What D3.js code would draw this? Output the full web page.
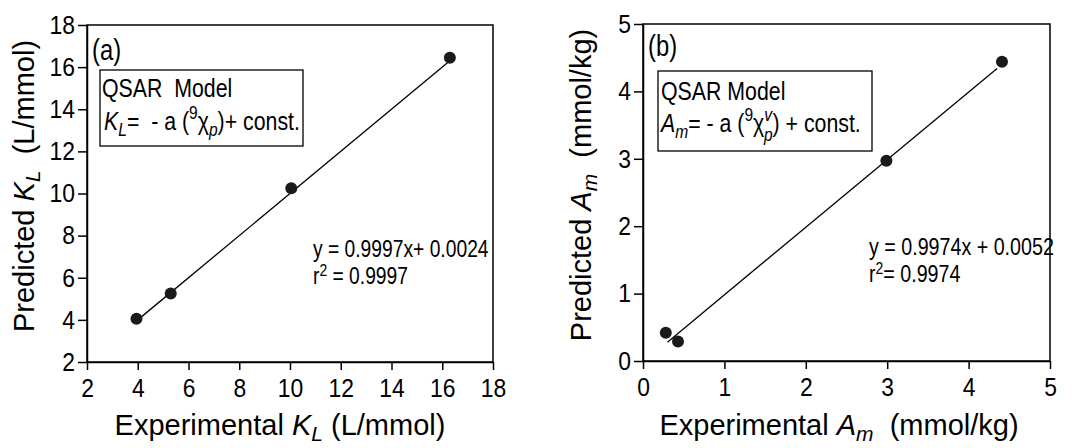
<!DOCTYPE html>
<html>
<head>
<meta charset="utf-8">
<script src="https://cdn.jsdelivr.net/npm/d3@7"></script>
<style>
  body { margin: 0; background: #fff; }
  svg { display: block; }
  .tick line, .domain { stroke: #000; stroke-width: 1.5; }
  .frame { fill: none; stroke: #000; stroke-width: 1.5; }
  .fit { stroke: #000; stroke-width: 1.3; }
  .dot { fill: #1a1a1a; }
  .narrow { font-family: "Liberation Sans", Arial, sans-serif; white-space: pre; }
  .title { font-family: "Liberation Sans", Arial, sans-serif; font-size: 29px; white-space: pre; }
  .box { fill: none; stroke: #000; stroke-width: 1.3; }
</style>
</head>
<body>
<svg id="chart" width="1075" height="448"></svg>
<script>
// panel (a): K_L in L/mmol
var kl_exp = [3.95, 5.3, 10.05, 16.3];
var kl_pred = [4.05, 5.25, 10.25, 16.45];
var kl_fit = [[4.0, 4.0], [16.3, 16.3]];
var kl_ticks = [2, 4, 6, 8, 10, 12, 14, 16, 18];

// panel (b): A_m in mmol/kg
var am_exp = [0.28, 0.43, 2.99, 4.41];
var am_pred = [0.42, 0.29, 2.97, 4.44];
var am_fit = [[0.3, 0.28], [4.35, 4.34]];
var am_ticks = [0, 1, 2, 3, 4, 5];

var SX = 0.82; // squeeze for the narrow face used in the original
var TSX = 0.88; // tick labels

var svg = d3.select("#chart");

// place a horizontally condensed text at x,y
function ntext(x, y, size) {
  return svg.append("text")
    .attr("class", "narrow")
    .style("font-size", size + "px")
    .attr("transform", "translate(" + x + "," + y + ") scale(" + SX + ",1)");
}

function panel(opt) {
  var x = d3.scaleLinear().domain(opt.xdom).range(opt.xr);
  var y = d3.scaleLinear().domain(opt.ydom).range(opt.yr);
  var g = svg.append("g");

  g.append("rect")
    .attr("class", "frame")
    .attr("x", opt.xr[0])
    .attr("y", opt.yr[1])
    .attr("width", opt.xr[1] - opt.xr[0])
    .attr("height", opt.yr[0] - opt.yr[1]);

  var xa = g.append("g")
    .attr("transform", "translate(0," + opt.yr[0] + ")")
    .call(d3.axisBottom(x).tickValues(opt.ticks).tickSize(8).tickSizeOuter(0).tickPadding(9).tickFormat(d3.format("d")));
  xa.attr("font-size", 26).attr("font-family", "Liberation Sans, Arial, sans-serif");
  xa.selectAll(".tick text").attr("transform", "scale(" + TSX + ",1)");

  var ya = g.append("g")
    .attr("transform", "translate(" + opt.xr[0] + ",0)")
    .call(d3.axisLeft(y).tickValues(opt.ticks).tickSize(9).tickSizeOuter(0).tickPadding(4).tickFormat(d3.format("d")));
  ya.attr("font-size", 26).attr("font-family", "Liberation Sans, Arial, sans-serif");
  ya.selectAll(".tick text")
    .attr("x", -12 / TSX)
    .attr("transform", "scale(" + TSX + ",1)");

  g.append("line")
    .attr("class", "fit")
    .attr("x1", x(opt.fit[0][0]))
    .attr("y1", y(opt.fit[0][1]))
    .attr("x2", x(opt.fit[1][0]))
    .attr("y2", y(opt.fit[1][1]));

  g.selectAll(".dot")
    .data(opt.xs)
    .enter()
    .append("circle")
    .attr("class", "dot")
    .attr("cx", (d) => x(d))
    .attr("cy", (d, i) => y(opt.ys[i]))
    .attr("r", 6);

  return g;
}

panel({
  xdom: [2, 18], ydom: [2, 18], xr: [87, 493], yr: [362, 25],
  ticks: kl_ticks, xs: kl_exp, ys: kl_pred, fit: kl_fit
});

panel({
  xdom: [0, 5], ydom: [0, 5], xr: [643, 1050], yr: [361, 24],
  ticks: am_ticks, xs: am_exp, ys: am_pred, fit: am_fit
});

// ---- panel (a) texts
ntext(92, 60, 29).text("(a)");

svg.append("rect").attr("class", "box").attr("x", 100).attr("y", 70).attr("width", 203).attr("height", 76);

ntext(102, 97, 26).text("QSAR\u00a0\u00a0Model");
var ta2 = ntext(104, 130, 26);
ta2.append("tspan").style("font-style", "italic").text("K");
ta2.append("tspan").style("font-style", "italic").style("font-size", "19px").attr("dy", 6).text("L");
ta2.append("tspan").attr("dy", -6).text("=\u00a0\u00a0- a\u00a0(");
ta2.append("tspan").style("font-size", "19px").attr("dy", -11).text("9");
ta2.append("tspan").attr("dy", 11).text("\u03c7");
ta2.append("tspan").style("font-style", "italic").style("font-size", "19px").attr("dy", 6).text("p");
ta2.append("tspan").attr("dy", -6).text(")+ const.");

ntext(313, 257, 23.5).text("y = 0.9997x+ 0.0024");
var ea2 = ntext(313, 284, 23.5);
ea2.append("tspan").text("r");
ea2.append("tspan").style("font-size", "17px").attr("dy", -8).text("2");
ea2.append("tspan").attr("dy", 8).text(" = 0.9997");

// axis titles (a)
var xa = svg.append("text").attr("class", "title").attr("x", 280).attr("y", 435).attr("text-anchor", "middle");
xa.append("tspan").text("Experimental ");
xa.append("tspan").style("font-style", "italic").text("K");
xa.append("tspan").style("font-style", "italic").style("font-size", "21px").attr("dy", 6).text("L");
xa.append("tspan").attr("dy", -6).text(" (L/mmol)");

var ya = svg.append("text").attr("class", "title").attr("text-anchor", "middle")
  .attr("transform", "translate(34,186) rotate(-90)");
ya.append("tspan").text("Predicted ");
ya.append("tspan").style("font-style", "italic").text("K");
ya.append("tspan").style("font-style", "italic").style("font-size", "21px").attr("dy", 6).text("L");
ya.append("tspan").attr("dy", -6).text("\u00a0\u00a0(L/mmol)");

// ---- panel (b) texts
ntext(648, 56, 29).text("(b)");

svg.append("rect").attr("class", "box").attr("x", 658).attr("y", 71).attr("width", 214).attr("height", 80);

ntext(661, 100, 26).text("QSAR Model");
var tb2 = ntext(661, 132, 26);
tb2.append("tspan").style("font-style", "italic").text("A");
tb2.append("tspan").style("font-style", "italic").style("font-size", "19px").attr("dy", 6).text("m");
tb2.append("tspan").attr("dy", -6).text("= - a (");
tb2.append("tspan").style("font-size", "19px").attr("dy", -11).text("9");
tb2.append("tspan").attr("dy", 11).text("\u03c7");
tb2.append("tspan").style("font-style", "italic").style("font-size", "19px").attr("dy", -11).text("v");
tb2.append("tspan").style("font-style", "italic").style("font-size", "19px").attr("dx", -10).attr("dy", 20).text("p");
tb2.append("tspan").attr("dy", -9).text(") + const.");

ntext(869, 255, 24).text("y = 0.9974x + 0.0052");
var eb2 = ntext(869, 282, 24);
eb2.append("tspan").text("r");
eb2.append("tspan").style("font-size", "17px").attr("dy", -8).text("2");
eb2.append("tspan").attr("dy", 8).text("= 0.9974");

var xb = svg.append("text").attr("class", "title").attr("x", 839).attr("y", 435).attr("text-anchor", "middle");
xb.append("tspan").text("Experimental ");
xb.append("tspan").style("font-style", "italic").text("A");
xb.append("tspan").style("font-style", "italic").style("font-size", "21px").attr("dy", 6).text("m");
xb.append("tspan").attr("dy", -6).text("\u00a0\u00a0(mmol/kg)");

var yb = svg.append("text").attr("class", "title").attr("text-anchor", "middle")
  .attr("transform", "translate(591,185) rotate(-90)");
yb.append("tspan").text("Predicted ");
yb.append("tspan").style("font-style", "italic").text("A");
yb.append("tspan").style("font-style", "italic").style("font-size", "21px").attr("dy", 6).text("m");
yb.append("tspan").attr("dy", -6).text("\u00a0\u00a0(mmol/kg)");
</script>
</body>
</html>
